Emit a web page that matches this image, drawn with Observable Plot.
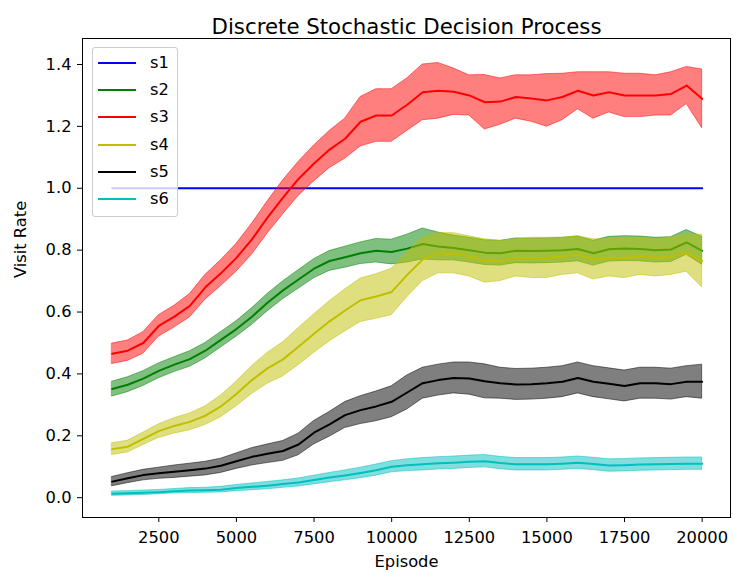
<!DOCTYPE html>
<html><head><meta charset="utf-8">
<script src="https://cdn.jsdelivr.net/npm/d3@7"></script>
<script src="https://cdn.jsdelivr.net/npm/@observablehq/plot@0.6"></script>
<style>
html,body{margin:0;padding:0;background:#fff;}
#wrap{position:relative;width:733px;height:573px;font-family:"DejaVu Sans",sans-serif;}
#wrap svg{position:absolute;left:0;top:0;}
#legend{position:absolute;left:92px;top:47px;width:84px;height:168px;background:rgba(255,255,255,0.8);border:1px solid #ccc;border-radius:3px;}
.item{position:absolute;left:0;width:84px;height:20px;}
.swatch{position:absolute;left:5px;top:9px;width:38px;height:2px;}
.lab{position:absolute;left:57px;top:0;font-size:16.3px;line-height:20px;color:#000;}
</style></head><body><div id="wrap"><div id="legend"></div></div>
<script>
const title = "Discrete Stochastic Decision Process";
const xLabel = "Episode";
const yLabel = "Visit Rate";
const seriesNames = ["s1","s2","s3","s4","s5","s6"];
const seriesColors = ["#0000ff","#008000","#ff0000","#bfbf00","#000000","#00bfbf"];
const xTicks = [2500,5000,7500,10000,12500,15000,17500,20000];
const yTicks = [0.0,0.2,0.4,0.6,0.8,1.0,1.2,1.4];

const episodes = [1000,1500,2000,2500,3000,3500,4000,4500,5000,5500,6000,6500,7000,7500,8000,8500,9000,9500,10000,10500,11000,11500,12000,12500,13000,13500,14000,14500,15000,15500,16000,16500,17000,17500,18000,18500,19000,19500,20000];

const s1Mean = [1,1,1,1,1,1,1,1,1,1,1,1,1,1,1,1,1,1,1,1,1,1,1,1,1,1,1,1,1,1,1,1,1,1,1,1,1,1,1];
const s1Half = [0,0,0,0,0,0,0,0,0,0,0,0,0,0,0,0,0,0,0,0,0,0,0,0,0,0,0,0,0,0,0,0,0,0,0,0,0,0,0];

const s2Mean = [0.351,0.365,0.385,0.41,0.43,0.448,0.475,0.51,0.545,0.585,0.63,0.67,0.705,0.74,0.765,0.777,0.79,0.798,0.794,0.805,0.82,0.812,0.807,0.80,0.792,0.79,0.798,0.797,0.798,0.80,0.804,0.79,0.803,0.805,0.804,0.80,0.802,0.825,0.798];
const s2Half = [0.024,0.024,0.024,0.024,0.024,0.025,0.025,0.025,0.025,0.027,0.028,0.029,0.03,0.031,0.032,0.034,0.035,0.038,0.04,0.045,0.05,0.045,0.04,0.04,0.04,0.04,0.04,0.04,0.04,0.04,0.04,0.04,0.04,0.04,0.04,0.04,0.04,0.04,0.045];

const s3Mean = [0.465,0.475,0.50,0.555,0.585,0.62,0.68,0.725,0.775,0.835,0.905,0.97,1.03,1.08,1.125,1.16,1.215,1.235,1.235,1.27,1.31,1.315,1.312,1.30,1.278,1.28,1.295,1.29,1.284,1.295,1.315,1.30,1.31,1.30,1.30,1.30,1.305,1.332,1.289];
const s3Half = [0.033,0.033,0.035,0.035,0.035,0.038,0.04,0.042,0.045,0.05,0.052,0.055,0.055,0.058,0.06,0.065,0.08,0.085,0.085,0.085,0.09,0.09,0.075,0.065,0.088,0.075,0.07,0.075,0.085,0.075,0.06,0.075,0.065,0.07,0.07,0.065,0.07,0.06,0.095];

const s4Mean = [0.157,0.165,0.19,0.215,0.232,0.245,0.265,0.295,0.335,0.38,0.418,0.447,0.488,0.53,0.57,0.605,0.638,0.65,0.665,0.72,0.77,0.79,0.79,0.78,0.765,0.765,0.775,0.775,0.775,0.78,0.785,0.77,0.775,0.775,0.78,0.775,0.78,0.79,0.765];
const s4Half = [0.019,0.019,0.02,0.022,0.025,0.027,0.03,0.035,0.04,0.045,0.05,0.055,0.06,0.062,0.065,0.068,0.07,0.072,0.075,0.072,0.07,0.065,0.065,0.065,0.07,0.065,0.06,0.065,0.065,0.06,0.06,0.065,0.06,0.065,0.06,0.06,0.06,0.06,0.085];

const s5Mean = [0.052,0.063,0.073,0.079,0.084,0.089,0.094,0.103,0.118,0.132,0.142,0.151,0.172,0.21,0.237,0.267,0.283,0.295,0.31,0.34,0.37,0.38,0.387,0.385,0.376,0.37,0.366,0.367,0.37,0.375,0.387,0.375,0.368,0.361,0.37,0.37,0.367,0.375,0.375];
const s5Half = [0.015,0.016,0.017,0.018,0.02,0.021,0.022,0.023,0.025,0.028,0.03,0.032,0.035,0.038,0.04,0.042,0.045,0.048,0.05,0.055,0.05,0.05,0.05,0.052,0.055,0.05,0.05,0.05,0.05,0.05,0.05,0.05,0.05,0.05,0.05,0.05,0.05,0.05,0.055];

const s6Mean = [0.013,0.014,0.016,0.018,0.021,0.023,0.024,0.026,0.031,0.035,0.039,0.044,0.049,0.057,0.065,0.072,0.08,0.089,0.10,0.105,0.108,0.111,0.113,0.116,0.118,0.112,0.108,0.108,0.108,0.11,0.113,0.109,0.104,0.105,0.107,0.108,0.109,0.11,0.11];
const s6Half = [0.007,0.007,0.007,0.007,0.007,0.008,0.008,0.009,0.01,0.011,0.012,0.012,0.013,0.014,0.015,0.016,0.017,0.018,0.018,0.019,0.02,0.02,0.02,0.02,0.02,0.02,0.02,0.02,0.02,0.02,0.02,0.02,0.02,0.02,0.02,0.02,0.02,0.02,0.02];

const means = [s1Mean,s2Mean,s3Mean,s4Mean,s5Mean,s6Mean];
const halves = [s1Half,s2Half,s3Half,s4Half,s5Half,s6Half];

const tables = seriesNames.map((name, i) => episodes.map((e, j) => ({
  series: name, episode: e, mean: means[i][j],
  lo: means[i][j] - halves[i][j], hi: means[i][j] + halves[i][j]
})));

const marks = [];
tables.forEach((rows, i) => {
  if (halves[i].some(h => h > 0)) {
    marks.push(Plot.areaY(rows, {x: "episode", y1: "lo", y2: "hi", fill: seriesColors[i], fillOpacity: 0.5, stroke: seriesColors[i], strokeOpacity: 0.5, strokeWidth: 1}));
  }
  marks.push(Plot.line(rows, {x: "episode", y: "mean", stroke: seriesColors[i], strokeWidth: 2}));
});

const chart = Plot.plot({
  width: 733, height: 573,
  marginLeft: 82, marginRight: 3, marginTop: 38, marginBottom: 56,
  style: {fontFamily: "DejaVu Sans", fontSize: "16.3px", background: "white", color: "black"},
  x: {domain: [43, 20913]},
  y: {domain: [-0.064, 1.484]},
  marks: [
    ...marks,
    Plot.frame({stroke: "black", strokeWidth: 1}),
    Plot.axisX({ticks: xTicks, tickSize: 5, tickPadding: 9, tickFormat: d => String(d), label: null, fontSize: 16.3}),
    Plot.axisY({ticks: yTicks, tickSize: 5, tickPadding: 6, tickFormat: d3.format(".1f"), label: null, fontSize: 16.3}),
    Plot.text([title], {text: d => d, frameAnchor: "top", dy: -20, fontSize: 21.3, fill: "black"}),
    Plot.text([xLabel], {text: d => d, frameAnchor: "bottom", dy: 49, fontSize: 16.3, fill: "black"}),
    Plot.text([yLabel], {text: d => d, frameAnchor: "left", dx: -62, rotate: -90, fontSize: 16.3, fill: "black"})
  ]
});
const wrap = document.getElementById("wrap");
wrap.insertBefore(chart, wrap.firstChild);

const legend = document.getElementById("legend");
seriesNames.forEach((name, i) => {
  const item = document.createElement("div");
  item.className = "item";
  item.style.top = (5 + i * 27.2) + "px";
  const sw = document.createElement("div");
  sw.className = "swatch";
  sw.style.background = seriesColors[i];
  const lab = document.createElement("div");
  lab.className = "lab";
  lab.textContent = name;
  item.appendChild(sw); item.appendChild(lab);
  legend.appendChild(item);
});
</script></body></html>
